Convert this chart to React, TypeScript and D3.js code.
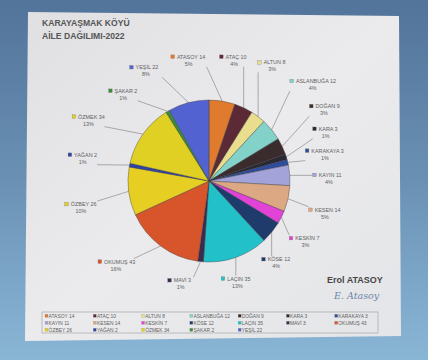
import * as d3 from "d3";

// family names and number of families, clockwise from 12 o'clock
const names = [
  "ATASOY", "ATAÇ", "ALTUN", "ASLANBUĞA", "DOĞAN", "KARA", "KARAKAYA",
  "KAYIN", "KESEN", "KESKİN", "KÖSE", "LAÇIN", "MAVİ", "OKUMUŞ",
  "ÖZBEY", "YAĞAN", "ÖZMEK", "ŞAKAR", "YEŞİL",
];
const counts = [14, 10, 8, 12, 9, 3, 3, 11, 14, 7, 12, 35, 3, 43, 26, 2, 34, 2, 22];

const colors = [
  "#e07a2c", "#5b2a36", "#e9dd8e", "#82d2c9", "#3a2c2c", "#2a2a36", "#2e4c9c",
  "#a3a3d9", "#dba883", "#e043d6", "#1f3b6b", "#22c0c9", "#3b2b52", "#d8552b",
  "#e6cf22", "#3142a2", "#e0d023", "#3a8b3a", "#5262d0",
];

// hand-placed data labels (offset from pie centre, in radii)
const labelOffsets: [number, number][] = [
  [-0.25, -1.51], [0.31, -1.51], [0.78, -1.44], [1.28, -1.21], [1.42, -0.9],
  [1.44, -0.62], [1.43, -0.35], [1.48, -0.05], [1.43, 0.38], [1.19, 0.73],
  [0.83, 0.99], [0.35, 1.23], [-0.35, 1.25], [-1.15, 1.02], [-1.58, 0.31],
  [-1.56, -0.3], [-1.49, -0.77], [-1.06, -1.09], [-0.78, -1.38],
];

const W = 428;
const H = 360;
const font = "'Liberation Sans', Arial, sans-serif";

export default function App() {
  const cx = 209;
  const cy = 181;
  const r = 81;
  const total = d3.sum(counts);

  const arcs = d3.pie<number>().sort(null).value((d) => d)(counts);
  const arc = d3.arc<d3.PieArcDatum<number>>().innerRadius(0).outerRadius(r);

  const labels = arcs.map((a, i) => {
    const mid = (a.startAngle + a.endAngle) / 2;
    const px = cx + Math.sin(mid) * r;
    const py = cy - Math.cos(mid) * r;
    const lx = cx + labelOffsets[i][0] * r;
    const ly = cy + labelOffsets[i][1] * r;
    const text = `${names[i]} ${counts[i]}`;
    const w = text.length * 3.3 + 6;
    const x0 = lx - w / 2;
    const x1 = lx + w / 2;
    const y0 = ly - 5;
    const y1 = ly + 8;
    const qx = Math.max(x0, Math.min(x1, px));
    const qy = Math.max(y0, Math.min(y1, py));
    return { i, px, py, qx, qy, lx, ly, text, w, pct: Math.round((counts[i] / total) * 100) + "%" };
  });

  const cols = 7;
  const legX = d3.scaleLinear().domain([0, cols]).range([45, 383]);
  const legY = d3.scaleLinear().domain([0, 1]).range([317.5, 324.5]);

  return (
    <svg
      width={W}
      height={H}
      viewBox={`0 0 ${W} ${H}`}
      style={{ position: "fixed", left: 0, top: 0, display: "block" }}
    >
      <defs>
        <linearGradient id="bg" x1="0" y1="0" x2="0" y2="1">
          <stop offset="0" stopColor="#52739a" />
          <stop offset="0.5" stopColor="#6a91b4" />
          <stop offset="1" stopColor="#8ab6d6" />
        </linearGradient>
        <linearGradient id="panel" x1="0" y1="0" x2="1" y2="1">
          <stop offset="0" stopColor="#e0e0e3" />
          <stop offset="0.5" stopColor="#ebebed" />
          <stop offset="1" stopColor="#e4e5e8" />
        </linearGradient>
      </defs>
      <rect width={W} height={H} fill="url(#bg)" />
      <polygon points="28,12 399,16 401,336 25,341" fill="url(#panel)" />

      <text x={42} y={26} fontFamily={font} fontWeight="bold" fontSize={8.6} fill="#555">
        KARAYAŞMAK KÖYÜ
      </text>
      <text x={42} y={39} fontFamily={font} fontWeight="bold" fontSize={8.6} fill="#555">
        AİLE DAĞILIMI-2022
      </text>

      <g transform={`translate(${cx},${cy})`}>
        {arcs.map((a, i) => (
          <path key={i} d={arc(a) ?? ""} fill={colors[i]} stroke="#3a3a3a" strokeWidth={0.4} />
        ))}
      </g>

      {labels.map((l) => (
        <g key={l.i} fontFamily={font} fontSize={5.4} fill="#606060">
          <line x1={l.px} y1={l.py} x2={l.qx} y2={l.qy} stroke="#666" strokeWidth={0.5} />
          <rect
            x={l.lx - l.w / 2}
            y={l.ly - 3.8}
            width={3.6}
            height={3.6}
            fill={colors[l.i]}
            stroke="#777"
            strokeWidth={0.3}
          />
          <text x={l.lx - l.w / 2 + 6} y={l.ly}>
            {l.text}
          </text>
          <text x={l.lx} y={l.ly + 7} textAnchor="middle">
            {l.pct}
          </text>
        </g>
      ))}

      <text x={327} y={283} fontFamily={font} fontWeight="bold" fontSize={9} fill="#454545">
        Erol ATASOY
      </text>
      <text
        x={334}
        y={299}
        fontFamily="'DejaVu Serif', serif"
        fontStyle="italic"
        fontSize={9.5}
        fill="#6b86a8"
      >
        E. Atasoy
      </text>

      <rect x={42} y={312} width={336} height={21} fill="none" stroke="#9a9a9a" strokeWidth={0.6} />
      {names.map((n, i) => {
        const x = legX(i % cols);
        const y = legY(Math.floor(i / cols));
        return (
          <g key={n} fontFamily={font} fontSize={4.9} fill="#606060">
            <rect x={x} y={y - 3.2} width={3} height={3} fill={colors[i]} stroke="#888" strokeWidth={0.2} />
            <text x={x + 3.6} y={y}>
              {`${n} ${counts[i]}`}
            </text>
          </g>
        );
      })}
    </svg>
  );
}
